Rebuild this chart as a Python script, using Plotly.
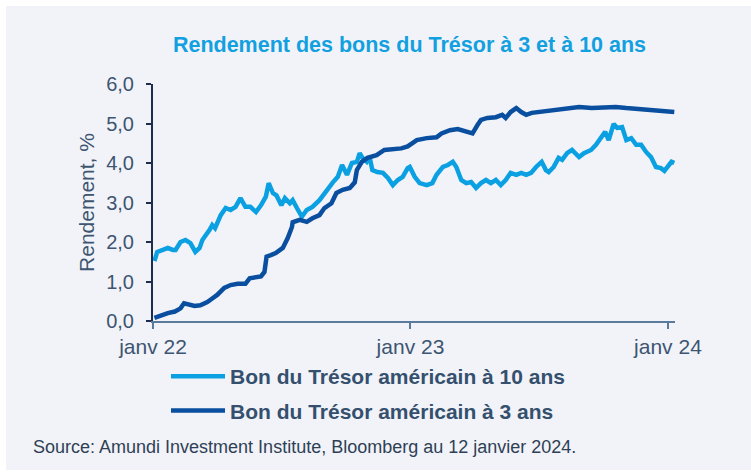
import plotly.graph_objects as go

# ---- data ----
dates_10y = [
    "2022-01-03", "2022-01-07", "2022-01-15", "2022-01-22", "2022-01-29", "2022-02-02", "2022-02-09",
    "2022-02-16", "2022-02-23", "2022-03-02", "2022-03-08", "2022-03-12", "2022-03-22", "2022-03-26",
    "2022-03-30", "2022-04-07", "2022-04-14", "2022-04-21", "2022-04-28", "2022-05-05", "2022-05-12",
    "2022-05-19", "2022-05-27", "2022-06-03", "2022-06-10", "2022-06-14", "2022-06-20", "2022-06-25",
    "2022-07-02", "2022-07-07", "2022-07-14", "2022-07-18", "2022-07-24", "2022-07-31", "2022-08-07",
    "2022-08-15", "2022-08-25", "2022-09-04", "2022-09-13", "2022-09-20", "2022-09-26", "2022-10-03",
    "2022-10-10", "2022-10-17", "2022-10-21", "2022-10-25", "2022-10-31", "2022-11-04", "2022-11-08",
    "2022-11-15", "2022-11-23", "2022-11-30", "2022-12-07", "2022-12-14", "2022-12-21", "2022-12-28",
    "2022-12-31", "2023-01-07", "2023-01-14", "2023-01-24", "2023-02-01", "2023-02-07", "2023-02-16",
    "2023-02-23", "2023-03-02", "2023-03-07", "2023-03-14", "2023-03-21", "2023-03-28", "2023-04-04",
    "2023-04-11", "2023-04-18", "2023-04-25", "2023-05-02", "2023-05-09", "2023-05-16", "2023-05-23",
    "2023-05-31", "2023-06-07", "2023-06-14", "2023-06-21", "2023-06-28", "2023-07-06", "2023-07-12",
    "2023-07-16", "2023-07-23", "2023-07-30", "2023-08-04", "2023-08-11", "2023-08-18", "2023-08-28",
    "2023-09-04", "2023-09-14", "2023-09-21", "2023-09-28", "2023-10-04", "2023-10-09", "2023-10-16",
    "2023-10-21", "2023-10-28", "2023-11-03", "2023-11-10", "2023-11-17", "2023-11-24", "2023-12-01",
    "2023-12-08", "2023-12-15", "2023-12-22", "2023-12-27", "2024-01-01", "2024-01-06", "2024-01-10",
]
yield_10y = [
    1.52, 1.75, 1.80, 1.85, 1.80, 1.80, 2.00,
    2.05, 1.97, 1.75, 1.85, 2.05, 2.30, 2.43,
    2.35, 2.68, 2.86, 2.81, 2.89, 3.11, 2.89,
    2.89, 2.76, 2.93, 3.15, 3.49, 3.24, 3.18,
    2.93, 3.11, 2.98, 3.06, 2.86, 2.64, 2.81,
    2.89, 3.06, 3.32, 3.51, 3.65, 3.95, 3.70,
    4.00, 4.03, 4.25, 4.13, 4.03, 4.15, 3.82,
    3.77, 3.75, 3.62, 3.44, 3.57, 3.65, 3.87,
    3.90, 3.65, 3.49, 3.44, 3.49, 3.70, 3.90,
    3.95, 4.03, 3.90, 3.57, 3.49, 3.52, 3.37,
    3.49, 3.57, 3.49, 3.57, 3.44, 3.57, 3.75,
    3.70, 3.75, 3.70, 3.75, 3.90, 4.03, 3.82,
    3.77, 3.90, 4.13, 4.08, 4.25, 4.33, 4.15,
    4.25, 4.33, 4.46, 4.63, 4.79, 4.58, 4.99,
    4.89, 4.91, 4.58, 4.63, 4.46, 4.46, 4.28,
    4.15, 3.90, 3.87, 3.80, 3.90, 4.03, 4.00,
]

dates_3y = [
    "2022-01-03", "2022-01-12", "2022-01-22", "2022-02-01", "2022-02-09", "2022-02-14", "2022-02-21",
    "2022-03-01", "2022-03-09", "2022-03-19", "2022-03-26", "2022-04-02", "2022-04-12", "2022-04-21",
    "2022-05-01", "2022-05-12", "2022-05-18", "2022-05-27", "2022-06-03", "2022-06-08", "2022-06-11",
    "2022-06-17", "2022-06-24", "2022-07-04", "2022-07-11", "2022-07-17", "2022-07-18", "2022-07-28",
    "2022-08-07", "2022-08-15", "2022-08-25", "2022-09-01", "2022-09-11", "2022-09-18", "2022-09-27",
    "2022-10-07", "2022-10-14", "2022-10-17", "2022-10-24", "2022-11-01", "2022-11-14", "2022-11-25",
    "2022-12-07", "2022-12-19", "2022-12-28", "2023-01-10", "2023-01-24", "2023-02-07", "2023-02-14",
    "2023-02-26", "2023-03-09", "2023-03-21", "2023-03-30", "2023-04-06", "2023-04-11", "2023-04-20",
    "2023-05-02", "2023-05-11", "2023-05-16", "2023-05-23", "2023-05-31", "2023-06-07", "2023-06-14",
    "2023-06-22", "2023-07-02", "2023-07-21", "2023-08-09", "2023-08-28", "2023-09-15", "2023-10-05",
    "2023-10-19", "2023-11-03", "2023-11-17", "2023-12-05", "2023-12-24", "2024-01-10",
]
yield_3y = [
    0.08, 0.15, 0.20, 0.24, 0.32, 0.45, 0.43,
    0.38, 0.40, 0.48, 0.57, 0.66, 0.84, 0.91,
    0.94, 0.94, 1.08, 1.10, 1.13, 1.24, 1.63,
    1.67, 1.72, 1.85, 2.10, 2.38, 2.50, 2.56,
    2.51, 2.60, 2.68, 2.86, 2.98, 3.24, 3.32,
    3.37, 3.51, 3.82, 4.03, 4.13, 4.20, 4.33,
    4.35, 4.37, 4.42, 4.58, 4.63, 4.65, 4.75,
    4.83, 4.86, 4.79, 4.75, 4.96, 5.09, 5.14,
    5.16, 5.22, 5.14, 5.29, 5.39, 5.29, 5.22,
    5.27, 5.29, 5.34, 5.39, 5.42, 5.39, 5.42,
    5.42, 5.39, 5.37, 5.34, 5.34, 5.29,
]

x_tickvals = ["2022-01-01", "2023-01-01", "2024-01-01"]
x_ticktext = ["janv 22", "janv 23", "janv 24"]
y_tickvals = [0, 1, 2, 3, 4, 5, 6]

name_10y = "Bon du Trésor américain à 10 ans"
name_3y = "Bon du Trésor américain à 3 ans"
title_text = "Rendement des bons du Trésor à 3 et à 10 ans"
source_text = "Source: Amundi Investment Institute, Bloomberg au 12 janvier 2024."

# ---- styling ----
W, H = 751, 472
L, R, T, B = 153, 76, 84, 151
LIGHT = "#0aa0e2"
DARK = "#0a4f9f"
TXT = "#3d5571"
BG = "#f1f3f8"
FONT = "Liberation Sans, Arial, sans-serif"

fig = go.Figure()
fig.add_trace(go.Scatter(x=dates_10y, y=yield_10y, mode="lines", name=name_10y,
                         legendgroup="a", line=dict(color=LIGHT, width=4.5)))
fig.add_trace(go.Scatter(x=dates_3y, y=yield_3y, mode="lines", name=name_3y,
                         legendgroup="b", line=dict(color=DARK, width=4.5)))

pw = W - L - R
ph = H - T - B
def px(xp):
    return (xp - L) / pw
def py(yp):
    return (H - B - yp) / ph

fig.add_shape(type="rect", xref="paper", yref="paper", layer="below",
              x0=px(6), x1=px(751), y0=py(470), y1=py(6),
              fillcolor=BG, line=dict(width=0))

fig.update_layout(
    width=W, height=H,
    margin=dict(l=L, r=R, t=T, b=B),
    paper_bgcolor="white",
    plot_bgcolor="rgba(0,0,0,0)",
    separators=", ",
    font=dict(family=FONT, color=TXT),
    title=dict(text="<b>" + title_text + "</b>", x=409.5 / W, xanchor="center",
               y=1 - 44 / H, yanchor="middle",
               font=dict(size=21.5, color="#12a0e0", family=FONT)),
    showlegend=True,
    legend=dict(x=px(166), y=py(356), xanchor="left", yanchor="top",
                bgcolor="rgba(0,0,0,0)",
                font=dict(size=21, color="#34506e", family=FONT, weight="bold"),
                tracegroupgap=4, itemwidth=54),
    xaxis=dict(type="date", range=["2022-01-01", "2024-01-11"],
               tickvals=x_tickvals, ticktext=x_ticktext,
               showgrid=False, zeroline=False,
               showline=True, linecolor="#5a7b9c", linewidth=2,
               ticks="outside", ticklen=6, tickcolor="#5a7b9c", tickwidth=2,
               tickfont=dict(size=21, color=TXT)),
    yaxis=dict(range=[0, 6], tickvals=y_tickvals, tickformat=".1f",
               showgrid=False, zeroline=False,
               showline=True, linecolor="#1c2d50", linewidth=2,
               ticks="outside", ticklen=5, tickcolor="#1c2d50", tickwidth=2,
               ticklabelstandoff=8,
               tickfont=dict(size=20, color=TXT),
               title=dict(text="Rendement, %", font=dict(size=21, color=TXT), standoff=6)),
    annotations=[dict(text=source_text, xref="paper", yref="paper",
                      x=px(31), y=py(447), xanchor="left", yanchor="middle",
                      showarrow=False, font=dict(size=18, color="#2f3f55", family=FONT))],
)

fig.write_html("out.html")
